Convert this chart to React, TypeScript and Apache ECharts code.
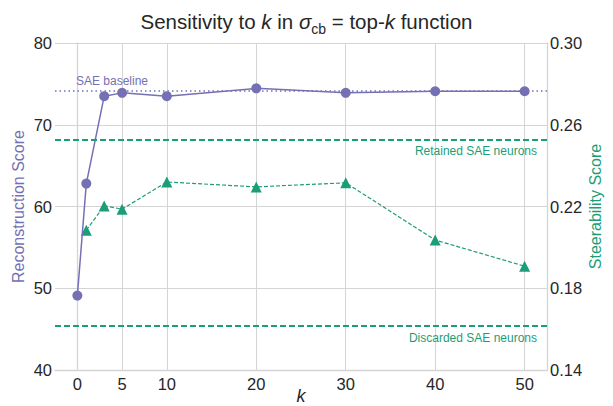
import React, { useEffect, useRef } from "react";
import * as echarts from "echarts";

const kValues = [0, 1, 3, 5, 10, 20, 30, 40, 50];
const reconstruction = [49.1, 62.8, 73.5, 73.9, 73.5, 74.45, 73.9, 74.1, 74.1];
const steerK = [1, 3, 5, 10, 20, 30, 40, 50];
const steerability = [0.2084, 0.2203, 0.2187, 0.232, 0.2296, 0.2316, 0.2036, 0.1908];
const saeBaseline = 74.13;
const retainedNeurons = 0.2528;
const discardedNeurons = 0.1617;
const xTicks = [0, 5, 10, 20, 30, 40, 50];

const PURPLE = "#7570b3";
const GREEN = "#1b9e77";
const GRID = "#d4d4d4";
const TEXT = "#262626";
const FONT = "Liberation Sans";

export default function App() {
  const ref = useRef<HTMLDivElement>(null);
  useEffect(() => {
    if (!ref.current) return;
    const chart = echarts.init(ref.current, undefined, { renderer: "svg" });
    chart.setOption({
      animation: false,
      backgroundColor: "#ffffff",
      textStyle: { fontFamily: FONT },
      title: {
        left: "center",
        top: 2,
        text: "Sensitivity to {i|k} in {i|σ}{sub|cb} = top-{i|k} function",
        textStyle: {
          fontSize: 20.5,
          fontWeight: "normal",
          color: TEXT,
          fontFamily: FONT,
          rich: {
            i: { fontStyle: "italic", fontSize: 20.5, color: TEXT, fontFamily: FONT },
            sub: { fontSize: 14, color: TEXT, fontFamily: FONT, verticalAlign: "bottom", lineHeight: 29 },
          },
        },
      },
      grid: { left: 55, right: 66, top: 43, bottom: 36, containLabel: false, outerBoundsMode: "none" },
      xAxis: {
        type: "value",
        min: -2.5,
        max: 52.5,
        name: "k",
        nameLocation: "middle",
        nameGap: 17,
        nameMoveOverlap: false,
        nameTextStyle: { fontSize: 18, lineHeight: 18, fontStyle: "italic", color: TEXT, fontFamily: FONT },
        axisLine: { show: true, lineStyle: { color: GRID, width: 1.3 } },
        axisTick: { show: false, customValues: xTicks },
        axisLabel: { customValues: xTicks, fontSize: 16.5, color: TEXT, margin: 5, fontFamily: FONT },
        splitLine: { show: true, lineStyle: { color: GRID, width: 1 } },
      },
      yAxis: [
        {
          type: "value",
          min: 40,
          max: 80,
          interval: 10,
          name: "Reconstruction Score",
          nameLocation: "middle",
          nameGap: 29,
          nameMoveOverlap: false,
          nameTextStyle: { fontSize: 16, color: PURPLE, fontFamily: FONT },
          axisLine: { show: true, lineStyle: { color: GRID, width: 1.3 } },
          axisTick: { show: false },
          axisLabel: { fontSize: 16.5, color: TEXT, margin: 3, fontFamily: FONT },
          splitLine: { show: true, lineStyle: { color: GRID, width: 1 } },
        },
        {
          type: "value",
          min: 0.14,
          max: 0.3,
          interval: 0.04,
          name: "Steerability Score",
          nameLocation: "middle",
          nameGap: 40,
          nameMoveOverlap: false,
          nameTextStyle: { fontSize: 16, color: GREEN, fontFamily: FONT },
          axisLine: { show: true, lineStyle: { color: GRID, width: 1.3 } },
          axisTick: { show: false },
          axisLabel: {
            fontSize: 16.5,
            color: TEXT,
            margin: 3,
            fontFamily: FONT,
            formatter: (v: number) => v.toFixed(2),
          },
          splitLine: { show: false },
        },
      ],
      series: [
        {
          type: "line",
          yAxisIndex: 1,
          data: steerK.map((k, i) => [k, steerability[i]]),
          symbol: "triangle",
          symbolSize: 11,
          itemStyle: { color: GREEN },
          lineStyle: { color: GREEN, width: 1.2, type: [4, 2] },
          z: 2,
          markLine: {
            silent: true,
            symbol: "none",
            precision: 4,
            lineStyle: { color: GREEN, width: 1.8, type: [6, 3] },
            label: {
              show: true,
              position: "insideEndBottom",
              color: GREEN,
              fontSize: 12,
              fontFamily: FONT,
              distance: [10, 6],
            },
            data: [
              { yAxis: retainedNeurons, label: { formatter: "Retained SAE neurons" } },
              { yAxis: discardedNeurons, label: { formatter: "Discarded SAE neurons" } },
            ],
          },
        },
        {
          type: "line",
          yAxisIndex: 0,
          data: kValues.map((k, i) => [k, reconstruction[i]]),
          symbol: "circle",
          symbolSize: 10,
          itemStyle: { color: PURPLE },
          lineStyle: { color: PURPLE, width: 1.5 },
          z: 3,
          markLine: {
            silent: true,
            symbol: "none",
            precision: 4,
            lineStyle: { color: PURPLE, width: 1.6, type: [1.5, 3] },
            label: {
              show: true,
              position: "insideStartTop",
              color: PURPLE,
              fontSize: 12,
              fontFamily: FONT,
              distance: [21, 4],
              formatter: "SAE baseline",
            },
            data: [{ yAxis: saeBaseline }],
          },
        },
      ],
    });
    return () => chart.dispose();
  }, []);
  return <div ref={ref} style={{ width: 613, height: 406, position: "absolute", left: 0, top: 0 }} />;
}
